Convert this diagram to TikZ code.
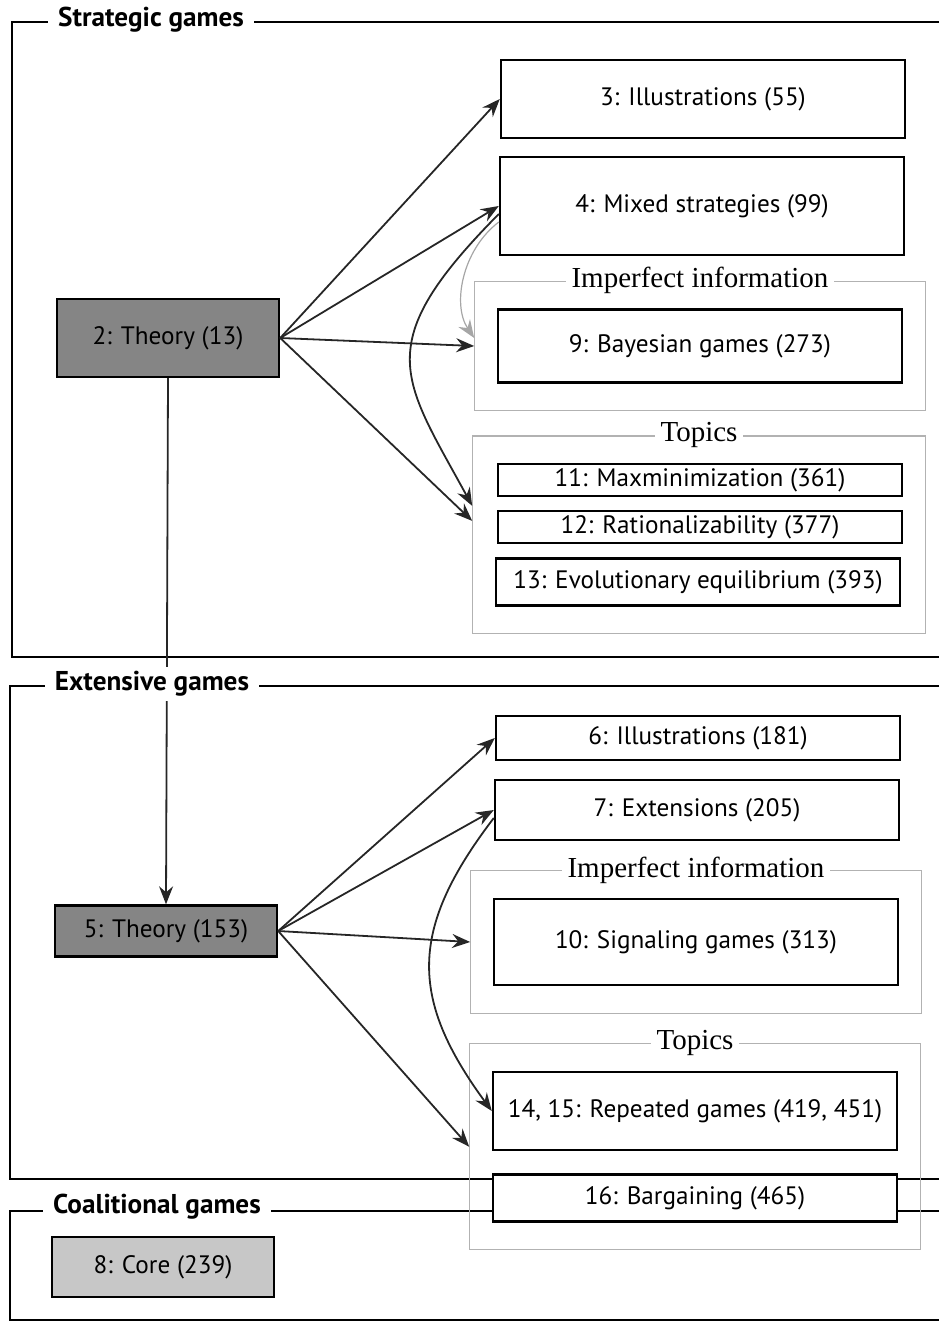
\documentclass[tikz,border=0pt]{standalone}
\usepackage{fontspec}
\setmainfont{PT Sans}
\newfontfamily\grpfont{Liberation Serif}
\usetikzlibrary{arrows.meta,fit}

\begin{document}
\begin{tikzpicture}[
            x=0.5pt, y=-0.5pt,
            font=\fontsize{12.6}{14}\selectfont,
            chap/.style={draw, line width=1.2pt, fill=white,
            minimum width=202pt, inner sep=2pt, align=center},
            theory/.style={chap, fill=black!48, minimum width=111pt},
            corebox/.style={chap, fill=black!22, minimum width=111pt},
            grp/.style={draw=black!30, line width=0.6pt,
            inner xsep=11pt, inner ysep=13.5pt},
            grptitle/.style={fill=white, inner sep=3pt,
            font=\grpfont\fontsize{14.5}{16}\selectfont},
            partlabel/.style={fill=white, inner xsep=5pt, inner ysep=2pt,
            font=\bfseries\fontsize{13.6}{15}\selectfont},
            partline/.style={line width=1pt},
            edge/.style={-{Stealth[length=9pt,width=7pt,inset=3pt]},
            line width=0.9pt, black!85}
        ]
            \useasboundingbox (0,0) rectangle (939,1323);
% frames of the three parts
            \draw[partline] (939,22) -| (12,657) -- (939,657);
            \draw[partline] (939,686) -| (10,1179) -- (939,1179);
            \draw[partline] (939,1211) -| (10,1320) -- (939,1320);
% strategic games
            \node[theory, minimum height=39pt]    (th2) at (168,338)   {2: Theory (13)};
            \node[chap, minimum height=39pt]      (t3)  at (703,99)    {3: Illustrations (55)};
            \node[chap, minimum height=49pt]      (t4)  at (702,206)   {4: Mixed strategies (99)};
            \node[chap, minimum height=36.5pt]    (t9)  at (700,346)   {9: Bayesian games (273)};
            \node[chap, minimum height=13.5pt]    (t11) at (700,480)   {11: Maxminimization (361)};
            \node[chap, minimum height=14pt]      (t12) at (700,527)   {12: Rationalizability (377)};
            \node[chap, minimum height=23.5pt]    (t13) at (698,582)   {13: Evolutionary equilibrium (393)};
            \node[grp, fit=(t9)]                  (imp1) {};
            \node[grp, fit=(t11) (t13)]           (top1) {};
            \node[grptitle] at (imp1.north) {Imperfect information};
            \node[grptitle] at (top1.north) {Topics};
% extensive games
            \node[theory, minimum height=25.5pt]  (th5) at (166,931)   {5: Theory (153)};
            \node[chap, minimum height=22pt]      (t6)  at (698,738)   {6: Illustrations (181)};
            \node[chap, minimum height=30pt]      (t7)  at (697,810)   {7: Extensions (205)};
            \node[chap, minimum height=43pt]      (t10) at (696,942)   {10: Signaling games (313)};
            \node[chap, minimum height=39pt]      (t14) at (695,1111)  {14, 15: Repeated games (419, 451)};
            \node[chap, minimum height=23.5pt]    (t16) at (695,1198)  {16: Bargaining (465)};
            \node[grp, fit=(t10)]                 (imp2) {};
            \node[grp, fit=(t14) (t16)]           (top2) {};
            \node[grptitle] at (imp2.north) {Imperfect information};
            \node[grptitle] at (top2.north) {Topics};
% coalitional games
            \node[corebox, minimum height=30pt]   (core) at (163,1267) {8: Core (239)};
% links from chapter 2
            \draw[edge] (th2.east) -- (t3.west);
            \draw[edge] (th2.east) -- (t4.west);
            \draw[edge] (th2.east) -- (imp1.west);
            \draw[edge] (th2.east) -- ([yshift=7pt]top1.west);
            \draw[edge] ([yshift=-4pt]t4.west) .. controls (369,345) and (402,377) .. ([yshift=14.5pt]top1.west);
            \draw[edge, black!35, line width=0.6pt] ([yshift=-8pt]t4.west) .. controls (462,250) and (452,305) .. ([yshift=4pt]imp1.west);
            \draw[edge] (th2.south) -- (th5.north);
% links from chapter 5
            \draw[edge] (th5.east) -- (t6.west);
            \draw[edge] (th5.east) -- (t7.west);
            \draw[edge] (th5.east) -- (imp2.west);
            \draw[edge] (th5.east) -- (top2.west);
            \draw[edge] ([yshift=-4pt]t7.west) .. controls (409,929) and (409,998) .. (t14.west);
% part titles on top of the frames
            \node[partlabel] (sg) at (151,20)   {Strategic games};
            \node[partlabel] (eg) at (152,684)  {Extensive games};
            \node[partlabel] (cg) at (157,1207) {Coalitional games};
        \end{tikzpicture}
\end{document}
